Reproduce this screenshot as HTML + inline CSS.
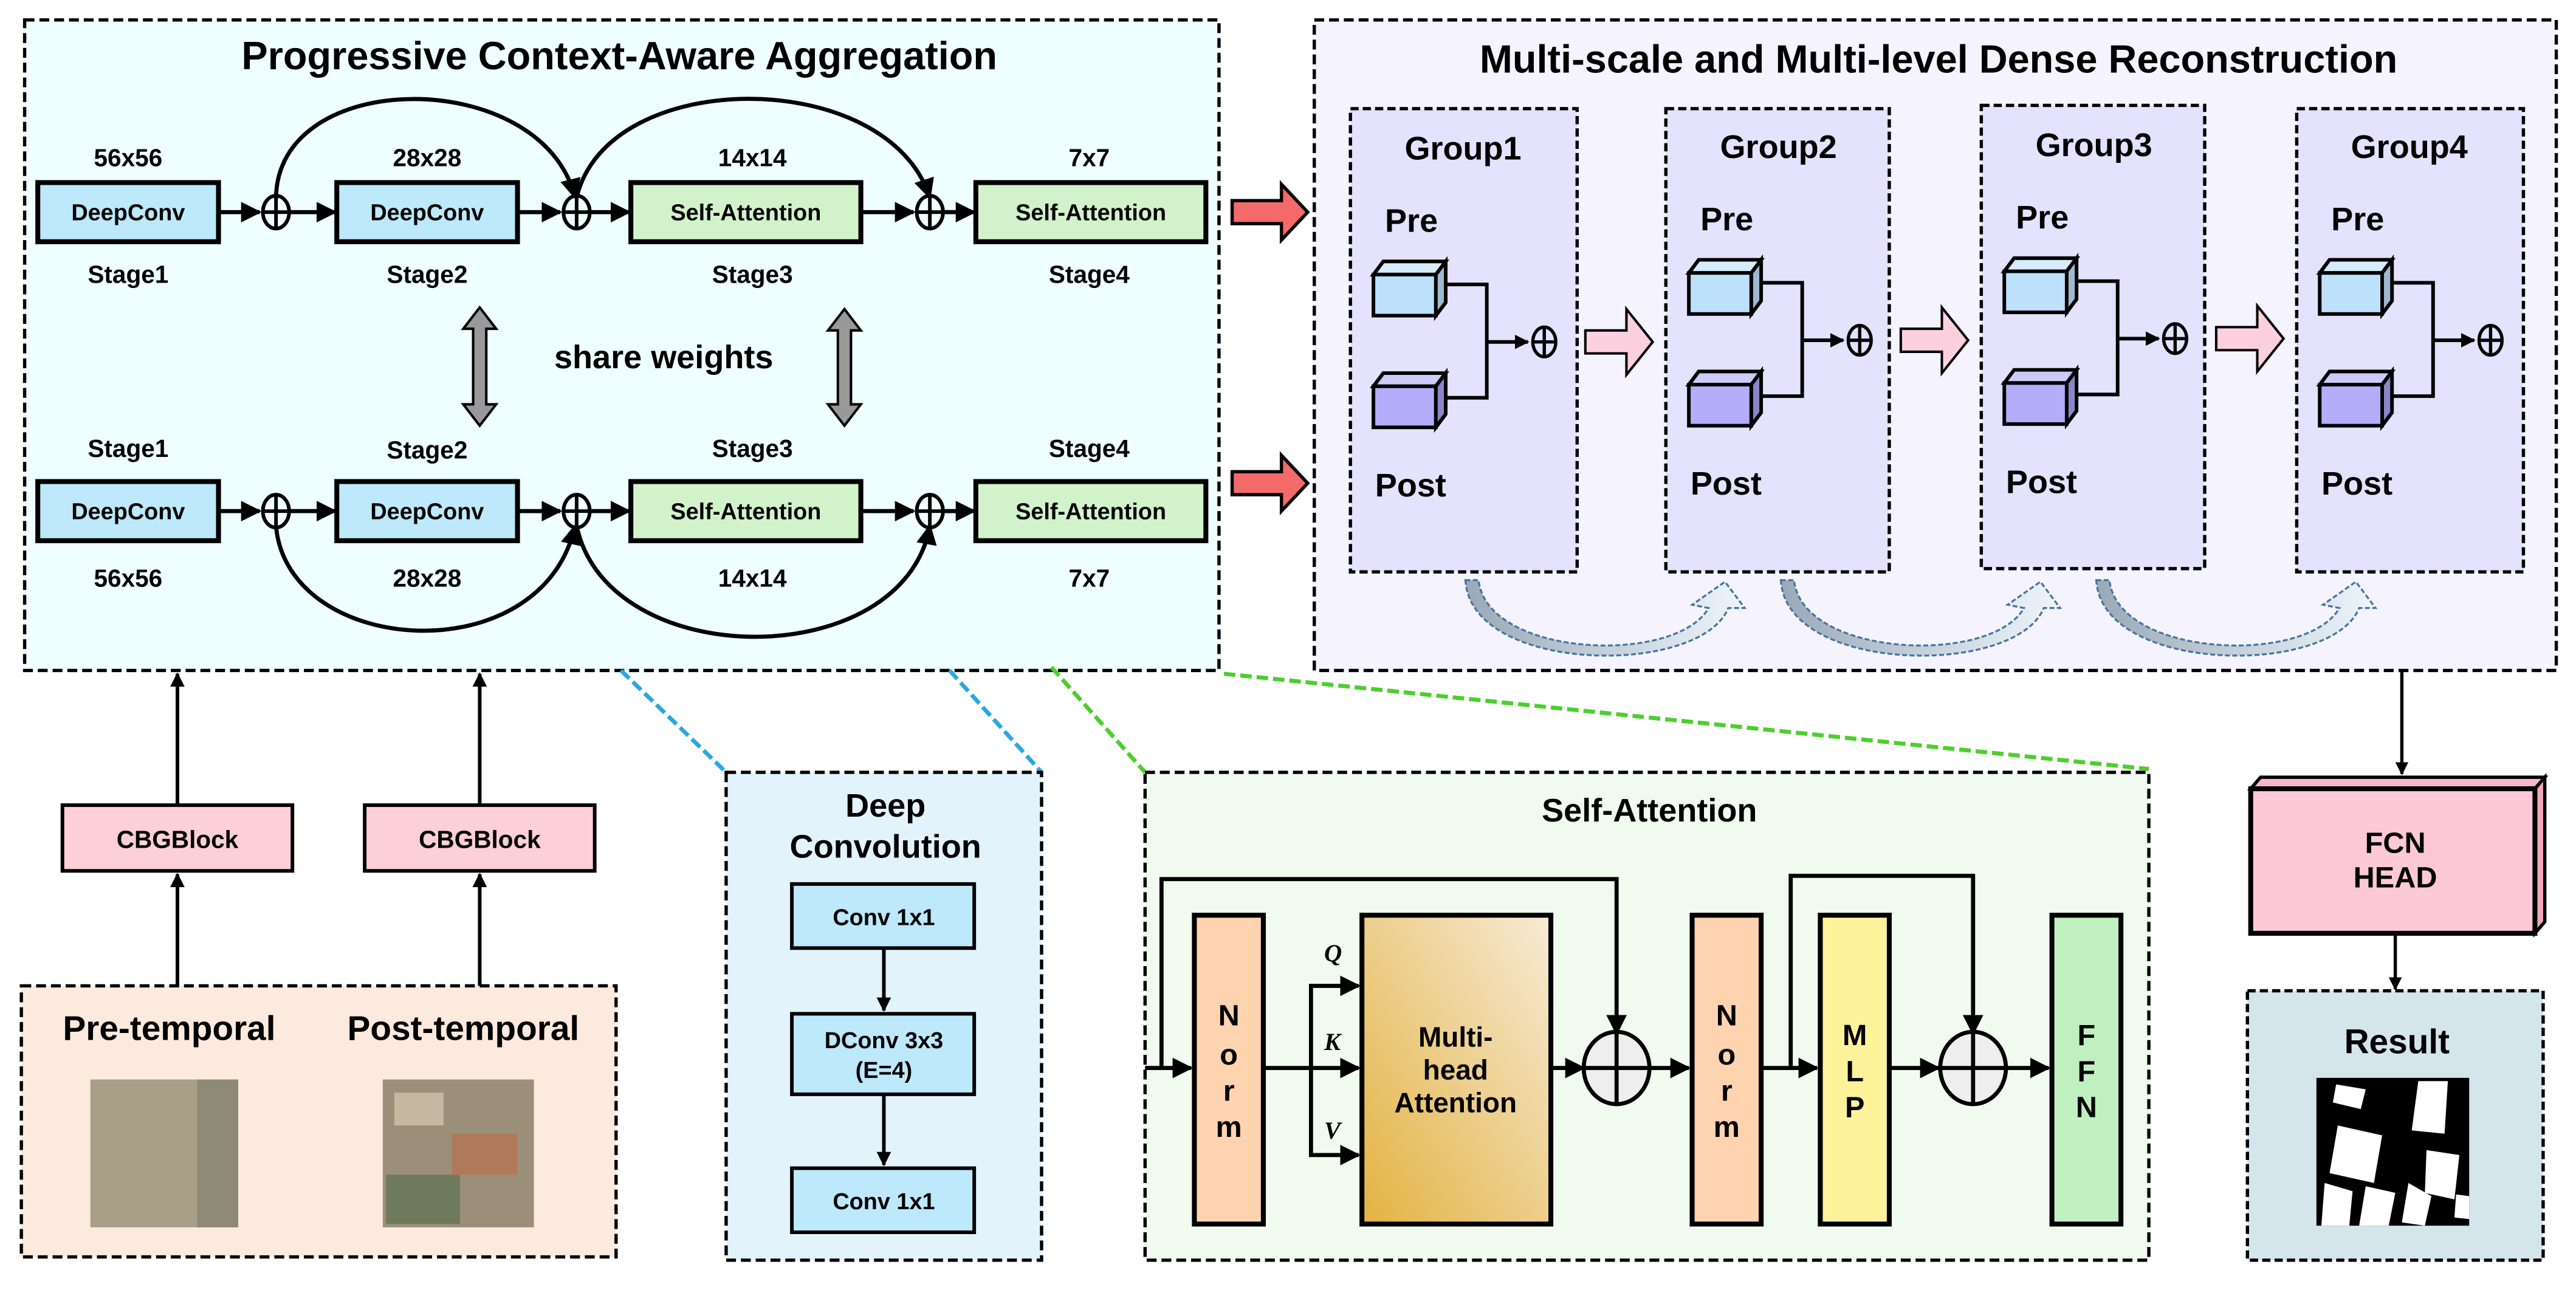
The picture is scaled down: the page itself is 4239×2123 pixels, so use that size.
<!DOCTYPE html>
<html><head><meta charset="utf-8"><style>
html,body{margin:0;padding:0;background:#fff;}
svg{display:block;}
text{font-family:"Liberation Sans",sans-serif;font-weight:bold;fill:#000;}
</style></head><body>
<svg width="4239" height="2123" viewBox="0 0 1568 785" xmlns="http://www.w3.org/2000/svg">
<defs>
<marker id="ah" viewBox="0 0 10 10" refX="9" refY="5" markerWidth="5" markerHeight="5" orient="auto-start-reverse"><path d="M0,0 L10,5 L0,10 z" fill="#000"/></marker>
<marker id="ahs" viewBox="0 0 10 10" refX="9" refY="5" markerWidth="4" markerHeight="4" orient="auto"><path d="M0,0 L10,5 L0,10 z" fill="#000"/></marker>
<linearGradient id="gold" x1="1" y1="0" x2="0" y2="1"><stop offset="0" stop-color="#f7ead6"/><stop offset="1" stop-color="#e3b341"/></linearGradient>
<linearGradient id="blu" x1="0" y1="0" x2="1" y2="0"><stop offset="0" stop-color="#9aa9b8"/><stop offset="1" stop-color="#eef6fb"/></linearGradient>
</defs>

<!-- PCAA -->
<rect x="15" y="12" width="727" height="396" fill="#effefe" stroke="#000" stroke-width="2" stroke-dasharray="6,3"/>
<text x="377" y="42" font-size="24" text-anchor="middle">Progressive Context-Aware Aggregation</text>
<g font-size="15" text-anchor="middle">
<text x="78" y="101">56x56</text><text x="260" y="101">28x28</text><text x="458" y="101">14x14</text><text x="663" y="101">7x7</text>
<text x="78" y="172">Stage1</text><text x="260" y="172">Stage2</text><text x="458" y="172">Stage3</text><text x="663" y="172">Stage4</text>
<text x="78" y="278">Stage1</text><text x="260" y="279">Stage2</text><text x="458" y="278">Stage3</text><text x="663" y="278">Stage4</text>
<text x="78" y="357">56x56</text><text x="260" y="357">28x28</text><text x="458" y="357">14x14</text><text x="663" y="357">7x7</text>
</g>
<g stroke="#000" stroke-width="3">
<rect x="23" y="111" width="110" height="36" fill="#bde9fa"/><rect x="205" y="111" width="110" height="36" fill="#bde9fa"/>
<rect x="384" y="111" width="140" height="36" fill="#d2f2cc"/><rect x="594" y="111" width="140" height="36" fill="#d2f2cc"/>
<rect x="23" y="293" width="110" height="36" fill="#bde9fa"/><rect x="205" y="293" width="110" height="36" fill="#bde9fa"/>
<rect x="384" y="293" width="140" height="36" fill="#d2f2cc"/><rect x="594" y="293" width="140" height="36" fill="#d2f2cc"/>
</g>
<g font-size="14" text-anchor="middle">
<text x="78" y="134">DeepConv</text><text x="260" y="134">DeepConv</text><text x="454" y="134">Self-Attention</text><text x="664" y="134">Self-Attention</text>
<text x="78" y="316">DeepConv</text><text x="260" y="316">DeepConv</text><text x="454" y="316">Self-Attention</text><text x="664" y="316">Self-Attention</text>
</g>
<g stroke="#000" stroke-width="2.5" fill="none">
<line x1="133" y1="129" x2="158" y2="129" marker-end="url(#ah)"/><line x1="177" y1="129" x2="204" y2="129" marker-end="url(#ah)"/>
<line x1="315" y1="129" x2="341" y2="129" marker-end="url(#ah)"/><line x1="360" y1="129" x2="383" y2="129" marker-end="url(#ah)"/>
<line x1="524" y1="129" x2="556" y2="129" marker-end="url(#ah)"/><line x1="575" y1="129" x2="593" y2="129" marker-end="url(#ah)"/>
<line x1="133" y1="311" x2="158" y2="311" marker-end="url(#ah)"/><line x1="177" y1="311" x2="204" y2="311" marker-end="url(#ah)"/>
<line x1="315" y1="311" x2="341" y2="311" marker-end="url(#ah)"/><line x1="360" y1="311" x2="383" y2="311" marker-end="url(#ah)"/>
<line x1="524" y1="311" x2="556" y2="311" marker-end="url(#ah)"/><line x1="575" y1="311" x2="593" y2="311" marker-end="url(#ah)"/>
<path d="M168,121 C168,40 330,40 350,120" marker-end="url(#ah)"/>
<path d="M351,120 C370,40 540,40 566,120" marker-end="url(#ah)"/>
<path d="M168,320 C175,400 330,410 350,320" marker-end="url(#ah)"/>
<path d="M351,320 C370,410 550,410 566,320" marker-end="url(#ah)"/>
</g>
<g stroke="#000" stroke-width="2.2" fill="none">
<ellipse cx="168" cy="129" rx="8" ry="10"/><line x1="160" y1="129" x2="176" y2="129"/><line x1="168" y1="119" x2="168" y2="139"/>
<ellipse cx="351" cy="129" rx="8" ry="10"/><line x1="343" y1="129" x2="359" y2="129"/><line x1="351" y1="119" x2="351" y2="139"/>
<ellipse cx="566" cy="129" rx="8" ry="10"/><line x1="558" y1="129" x2="574" y2="129"/><line x1="566" y1="119" x2="566" y2="139"/>
<ellipse cx="168" cy="311" rx="8" ry="10"/><line x1="160" y1="311" x2="176" y2="311"/><line x1="168" y1="301" x2="168" y2="321"/>
<ellipse cx="351" cy="311" rx="8" ry="10"/><line x1="343" y1="311" x2="359" y2="311"/><line x1="351" y1="301" x2="351" y2="321"/>
<ellipse cx="566" cy="311" rx="8" ry="10"/><line x1="558" y1="311" x2="574" y2="311"/><line x1="566" y1="301" x2="566" y2="321"/>
</g>
<g fill="#999" stroke="#000" stroke-width="1.5">
<path d="M292,187 L302,200 L296,200 L296,246 L302,246 L292,259 L282,246 L288,246 L288,200 L282,200 z"/>
<path d="M514,188 L524,201 L518,201 L518,246 L524,246 L514,259 L504,246 L510,246 L510,201 L504,201 z"/>
</g>
<text x="404" y="224" font-size="20" text-anchor="middle">share weights</text>

<!-- red arrows -->
<g fill="#f46a6a" stroke="#000" stroke-width="2">
<path d="M750,122 L780,122 L780,112 L796,129 L780,146 L780,136 L750,136 z"/>
<path d="M750,287 L780,287 L780,277 L796,294 L780,311 L780,301 L750,301 z"/>
</g>

<!-- MMDR -->
<rect x="800" y="12" width="756" height="396" fill="#f5f4fe" stroke="#000" stroke-width="2" stroke-dasharray="6,3"/>
<text x="1180" y="44" font-size="24" text-anchor="middle">Multi-scale and Multi-level Dense Reconstruction</text>
<g id="grp">
</g>
<g stroke="#000" stroke-width="2" stroke-dasharray="5,2.5" fill="#e4e2fc">
<rect x="822" y="66" width="138" height="282"/><rect x="1014" y="66" width="136" height="282"/>
<rect x="1206" y="64" width="136" height="282"/><rect x="1398" y="66" width="138" height="282"/>
</g>
<g font-size="20">
<text x="855" y="97">Group1</text><text x="1047" y="96">Group2</text><text x="1239" y="95">Group3</text><text x="1431" y="96">Group4</text>
<text x="843" y="141">Pre</text><text x="1035" y="140">Pre</text><text x="1227" y="139">Pre</text><text x="1419" y="140">Pre</text>
<text x="837" y="302">Post</text><text x="1029" y="301">Post</text><text x="1221" y="300">Post</text><text x="1413" y="301">Post</text>
</g>
<g stroke="#000" stroke-width="2.2">
<g transform="translate(0,0)">
<path d="M836,167 L842,159 L880,159 L874,167 z" fill="#d6ecfb"/><rect x="836" y="167" width="38" height="25" fill="#bde0fb"/><path d="M874,167 L880,159 L880,184 L874,192 z" fill="#9fb9d0"/>
<path d="M836,235 L842,227 L880,227 L874,235 z" fill="#cccaf8"/><rect x="836" y="235" width="38" height="25" fill="#b3adfa"/><path d="M874,235 L880,227 L880,252 L874,260 z" fill="#8c86c8"/>
<path d="M880,173 L905,173 L905,242 L880,242 M905,208 L930,208" fill="none" marker-end="url(#ahs)"/>
</g>
<g transform="translate(192,-1)">
<path d="M836,167 L842,159 L880,159 L874,167 z" fill="#d6ecfb"/><rect x="836" y="167" width="38" height="25" fill="#bde0fb"/><path d="M874,167 L880,159 L880,184 L874,192 z" fill="#9fb9d0"/>
<path d="M836,235 L842,227 L880,227 L874,235 z" fill="#cccaf8"/><rect x="836" y="235" width="38" height="25" fill="#b3adfa"/><path d="M874,235 L880,227 L880,252 L874,260 z" fill="#8c86c8"/>
<path d="M880,173 L905,173 L905,242 L880,242 M905,208 L930,208" fill="none" marker-end="url(#ahs)"/>
</g>
<g transform="translate(384,-2)">
<path d="M836,167 L842,159 L880,159 L874,167 z" fill="#d6ecfb"/><rect x="836" y="167" width="38" height="25" fill="#bde0fb"/><path d="M874,167 L880,159 L880,184 L874,192 z" fill="#9fb9d0"/>
<path d="M836,235 L842,227 L880,227 L874,235 z" fill="#cccaf8"/><rect x="836" y="235" width="38" height="25" fill="#b3adfa"/><path d="M874,235 L880,227 L880,252 L874,260 z" fill="#8c86c8"/>
<path d="M880,173 L905,173 L905,242 L880,242 M905,208 L930,208" fill="none" marker-end="url(#ahs)"/>
</g>
<g transform="translate(576,-1)">
<path d="M836,167 L842,159 L880,159 L874,167 z" fill="#d6ecfb"/><rect x="836" y="167" width="38" height="25" fill="#bde0fb"/><path d="M874,167 L880,159 L880,184 L874,192 z" fill="#9fb9d0"/>
<path d="M836,235 L842,227 L880,227 L874,235 z" fill="#cccaf8"/><rect x="836" y="235" width="38" height="25" fill="#b3adfa"/><path d="M874,235 L880,227 L880,252 L874,260 z" fill="#8c86c8"/>
<path d="M880,173 L905,173 L905,242 L880,242 M905,208 L930,208" fill="none" marker-end="url(#ahs)"/>
</g>
</g>
<g stroke="#000" stroke-width="2" fill="none">
<ellipse cx="940" cy="208" rx="7" ry="9"/><line x1="933" y1="208" x2="947" y2="208"/><line x1="940" y1="199" x2="940" y2="217"/>
<ellipse cx="1132" cy="207" rx="7" ry="9"/><line x1="1125" y1="207" x2="1139" y2="207"/><line x1="1132" y1="198" x2="1132" y2="216"/>
<ellipse cx="1324" cy="206" rx="7" ry="9"/><line x1="1317" y1="206" x2="1331" y2="206"/><line x1="1324" y1="197" x2="1324" y2="215"/>
<ellipse cx="1516" cy="207" rx="7" ry="9"/><line x1="1509" y1="207" x2="1523" y2="207"/><line x1="1516" y1="198" x2="1516" y2="216"/>
</g>
<g fill="#fdd0e0" stroke="#000" stroke-width="1.5">
<path d="M965,201 L990,201 L990,188 L1006,208 L990,228 L990,215 L965,215 z"/>
<path d="M1157,200 L1182,200 L1182,187 L1198,207 L1182,227 L1182,214 L1157,214 z"/>
<path d="M1349,199 L1374,199 L1374,186 L1390,206 L1374,226 L1374,213 L1349,213 z"/>
</g>
<g fill="url(#blu)" stroke="#4a74a0" stroke-width="1.2" stroke-dasharray="3,1.5">
<path d="M892,353 L900,353 C905,400 1020,405 1040,370 L1030,368 L1050,354 L1062,370 L1052,370 C1035,412 895,410 892,353 z"/>
<path d="M1084,353 L1092,353 C1097,400 1212,405 1232,370 L1222,368 L1242,354 L1254,370 L1244,370 C1227,412 1087,410 1084,353 z"/>
<path d="M1276,353 L1284,353 C1289,400 1404,405 1424,370 L1414,368 L1434,354 L1446,370 L1436,370 C1419,412 1279,410 1276,353 z"/>
</g>

<!-- dashed connectors -->
<g stroke-width="2.5" stroke-dasharray="7,3">
<line x1="378" y1="408" x2="442" y2="470" stroke="#29a8e0"/>
<line x1="578" y1="408" x2="634" y2="470" stroke="#29a8e0"/>
<line x1="640" y1="406" x2="697" y2="470" stroke="#4ccf2e"/>
<line x1="745" y1="410" x2="1308" y2="468" stroke="#4ccf2e"/>
</g>

<!-- bottom left -->
<rect x="13" y="600" width="362" height="165" fill="#fbeadd" stroke="#000" stroke-width="2" stroke-dasharray="6,3"/>
<text x="103" y="633" font-size="21" text-anchor="middle">Pre-temporal</text>
<text x="282" y="633" font-size="21" text-anchor="middle">Post-temporal</text>
<rect x="55" y="657" width="90" height="90" fill="#a89f86"/><rect x="120" y="657" width="25" height="90" fill="#8f8a76"/>
<rect x="233" y="657" width="92" height="90" fill="#9b8f7a"/><rect x="240" y="665" width="30" height="20" fill="#c4b8a0"/><rect x="275" y="690" width="40" height="25" fill="#b07a5a"/><rect x="235" y="715" width="45" height="30" fill="#6f7a5c"/>
<g stroke="#000" stroke-width="2.2">
<rect x="38" y="490" width="140" height="40" fill="#fdd0d8"/><rect x="222" y="490" width="140" height="40" fill="#fdd0d8"/>
<line x1="108" y1="600" x2="108" y2="532" marker-end="url(#ahs)"/><line x1="292" y1="600" x2="292" y2="532" marker-end="url(#ahs)"/>
<line x1="108" y1="490" x2="108" y2="410" marker-end="url(#ahs)"/><line x1="292" y1="490" x2="292" y2="410" marker-end="url(#ahs)"/>
</g>
<text x="108" y="516" font-size="15" text-anchor="middle">CBGBlock</text>
<text x="292" y="516" font-size="15" text-anchor="middle">CBGBlock</text>

<!-- Deep conv -->
<rect x="442" y="470" width="192" height="297" fill="#e3f3fc" stroke="#000" stroke-width="2" stroke-dasharray="6,3"/>
<text x="539" y="497" font-size="20" text-anchor="middle">Deep</text>
<text x="539" y="522" font-size="20" text-anchor="middle">Convolution</text>
<g stroke="#000" stroke-width="2.2" fill="#bde9fa">
<rect x="482" y="538" width="111" height="39"/><rect x="482" y="617" width="111" height="49"/><rect x="482" y="711" width="111" height="39"/>
<line x1="538" y1="577" x2="538" y2="615" marker-end="url(#ahs)"/><line x1="538" y1="666" x2="538" y2="709" marker-end="url(#ahs)"/>
</g>
<g font-size="14" text-anchor="middle">
<text x="538" y="563">Conv 1x1</text><text x="538" y="638">DConv 3x3</text><text x="538" y="656">(E=4)</text><text x="538" y="736">Conv 1x1</text>
</g>

<!-- Self-Attention detail -->
<rect x="697" y="470" width="611" height="297" fill="#f0faef" stroke="#000" stroke-width="2" stroke-dasharray="6,3"/>
<text x="1004" y="500" font-size="20" text-anchor="middle">Self-Attention</text>
<g stroke="#000" stroke-width="3">
<rect x="727" y="557" width="42" height="188" fill="#fdd3b0"/>
<rect x="829" y="557" width="115" height="188" fill="url(#gold)"/>
<rect x="1030" y="557" width="42" height="188" fill="#fdd3b0"/>
<rect x="1108" y="557" width="42" height="188" fill="#fef39a"/>
<rect x="1249" y="557" width="42" height="188" fill="#c1f0c0"/>
</g>
<g stroke="#000" stroke-width="2.5" fill="none">
<line x1="697" y1="650" x2="725" y2="650" marker-end="url(#ah)"/>
<polyline points="707,650 707,535 984,535 984,629" marker-end="url(#ah)"/>
<line x1="769" y1="650" x2="827" y2="650" marker-end="url(#ah)"/>
<polyline points="798,650 798,600 827,600" marker-end="url(#ah)"/>
<polyline points="798,650 798,703 827,703" marker-end="url(#ah)"/>
<line x1="944" y1="650" x2="964" y2="650" marker-end="url(#ah)"/>
<line x1="1004" y1="650" x2="1028" y2="650" marker-end="url(#ah)"/>
<line x1="1072" y1="650" x2="1106" y2="650" marker-end="url(#ah)"/>
<polyline points="1090,650 1090,533 1201,533 1201,629" marker-end="url(#ah)"/>
<line x1="1150" y1="650" x2="1180" y2="650" marker-end="url(#ah)"/>
<line x1="1222" y1="650" x2="1247" y2="650" marker-end="url(#ah)"/>
<ellipse cx="984" cy="650" rx="20" ry="22" fill="#eee"/><line x1="964" y1="650" x2="1004" y2="650"/><line x1="984" y1="628" x2="984" y2="672"/>
<ellipse cx="1201" cy="650" rx="20" ry="22" fill="#eee"/><line x1="1181" y1="650" x2="1221" y2="650"/><line x1="1201" y1="628" x2="1201" y2="672"/>
</g>
<g font-size="15" font-style="italic" style="font-family:'Liberation Serif',serif">
<text x="806" y="585" style="font-family:'Liberation Serif',serif">Q</text>
<text x="806" y="639" style="font-family:'Liberation Serif',serif">K</text>
<text x="806" y="693" style="font-family:'Liberation Serif',serif">V</text>
</g>
<g font-size="18" text-anchor="middle">
<text x="748" y="624">N</text><text x="748" y="648">o</text><text x="748" y="670">r</text><text x="748" y="692">m</text>
<text x="1051" y="624">N</text><text x="1051" y="648">o</text><text x="1051" y="670">r</text><text x="1051" y="692">m</text>
<text x="1129" y="636">M</text><text x="1129" y="658">L</text><text x="1129" y="680">P</text>
<text x="1270" y="636">F</text><text x="1270" y="658">F</text><text x="1270" y="680">N</text>
<text x="886" y="637" font-size="17">Multi-</text><text x="886" y="657" font-size="17">head</text><text x="886" y="677" font-size="17">Attention</text>
</g>

<!-- FCN + result -->
<line x1="1462" y1="408" x2="1462" y2="471" stroke="#000" stroke-width="2" marker-end="url(#ahs)"/>
<path d="M1370,480 L1376,473 L1549,473 L1543,480 z" fill="#f8b8c8" stroke="#000" stroke-width="2"/>
<path d="M1543,480 L1549,473 L1549,561 L1543,568 z" fill="#f0a8b8" stroke="#000" stroke-width="2"/>
<rect x="1370" y="480" width="173" height="88" fill="#fdc8d8" stroke="#000" stroke-width="3"/>
<text x="1458" y="519" font-size="18" text-anchor="middle">FCN</text>
<text x="1458" y="540" font-size="18" text-anchor="middle">HEAD</text>
<line x1="1458" y1="568" x2="1458" y2="602" stroke="#000" stroke-width="2" marker-end="url(#ahs)"/>
<rect x="1368" y="603" width="180" height="164" fill="#d5e5ec" stroke="#000" stroke-width="2" stroke-dasharray="5,2.5"/>
<text x="1459" y="641" font-size="21" text-anchor="middle">Result</text>
<rect x="1410" y="656" width="93" height="90" fill="#000"/>
<g fill="#fff">
<path d="M1422,660 L1440,663 L1437,675 L1420,671 z"/><path d="M1472,658 L1490,658 L1488,690 L1468,688 z"/>
<path d="M1423,685 L1450,691 L1445,720 L1418,714 z"/><path d="M1477,700 L1497,703 L1494,730 L1476,726 z"/>
<path d="M1415,720 L1432,725 L1430,746 L1413,746 z"/><path d="M1440,722 L1458,726 L1454,746 L1436,746 z"/>
<path d="M1466,720 L1480,728 L1476,746 L1462,744 z"/><path d="M1495,727 L1503,728 L1503,742 L1494,741 z"/>
</g>
</svg>
</body></html>
